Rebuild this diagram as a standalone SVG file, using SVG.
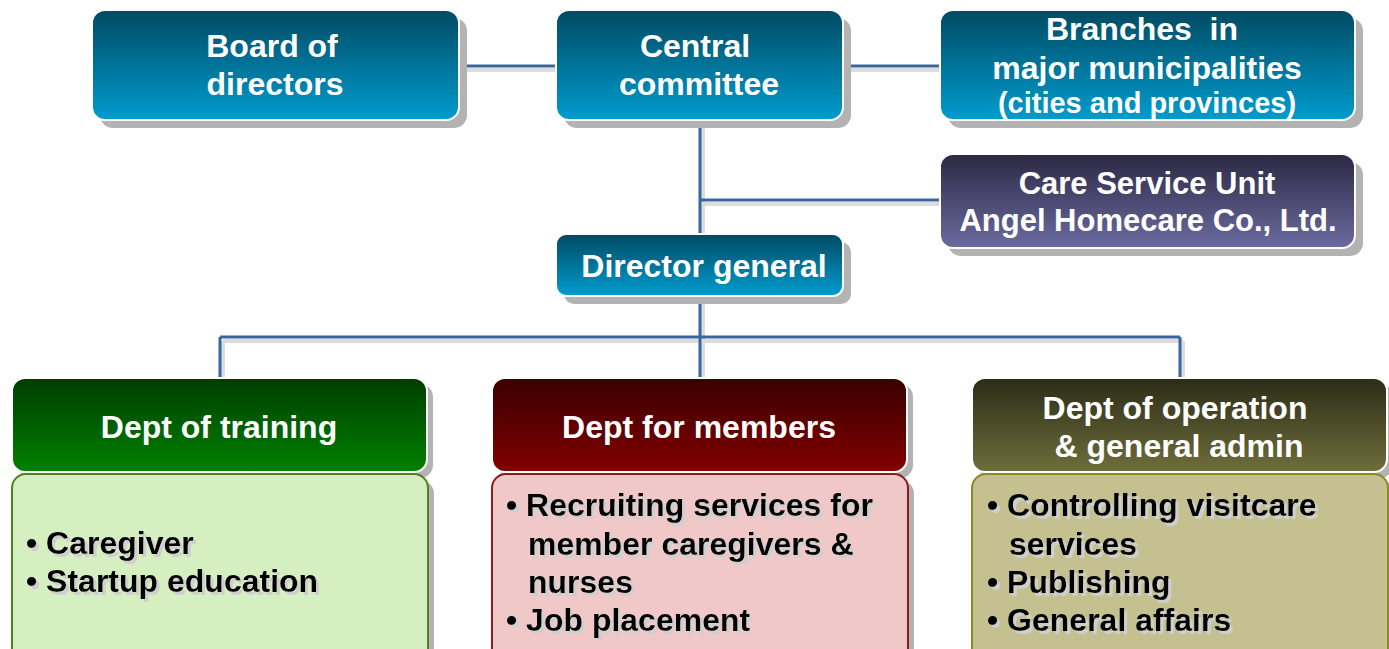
<svg xmlns="http://www.w3.org/2000/svg" width="1389" height="649" viewBox="0 0 1389 649">
<defs>
<linearGradient id="gBlue" x1="0" y1="0" x2="0" y2="1"><stop offset="0" stop-color="#004a62"/><stop offset="1" stop-color="#009ccf"/></linearGradient>
<linearGradient id="gPurple" x1="0" y1="0" x2="0" y2="1"><stop offset="0" stop-color="#2c2944"/><stop offset="1" stop-color="#6b6ba0"/></linearGradient>
<linearGradient id="gGreen" x1="0" y1="0" x2="0" y2="1"><stop offset="0" stop-color="#003d00"/><stop offset="1" stop-color="#008200"/></linearGradient>
<linearGradient id="gRed" x1="0" y1="0" x2="0" y2="1"><stop offset="0" stop-color="#3a0000"/><stop offset="1" stop-color="#820000"/></linearGradient>
<linearGradient id="gOlive" x1="0" y1="0" x2="0" y2="1"><stop offset="0" stop-color="#2c2c18"/><stop offset="1" stop-color="#6e6e3c"/></linearGradient>
<filter id="tsh" x="-5%" y="-20%" width="115%" height="150%">
<feOffset in="SourceAlpha" dx="3" dy="3" result="o"/>
<feFlood flood-color="#cfcfcf"/>
<feComposite in2="o" operator="in" result="s"/>
<feMerge><feMergeNode in="s"/><feMergeNode in="SourceGraphic"/></feMerge>
</filter>
</defs>
<style>
.sh{fill:#b3b3b3}
.box{stroke:#ffffff;stroke-width:2}
.t{font-family:"Liberation Sans",Arial,sans-serif;font-weight:bold;font-size:32px;fill:#ffffff;text-anchor:middle}
.b{font-family:"Liberation Sans",Arial,sans-serif;font-weight:bold;font-size:32px;fill:#000000}
.ln{stroke:#3a66a0;stroke-width:3;fill:none}
.lns{stroke:#dcdcdc;stroke-width:4;fill:none}
</style>
<g id="connectors">
<g transform="translate(3,4)">
<path class="lns" d="M459 66H556M843 66H940M700 120V234M700 200H940M700 296V337M220 337H1180M220 337V378M700 337V378M1180 337V378"/>
</g>
<path class="ln" d="M459 66H556M843 66H940M700 120V234M700 200H940M700 296V378M220 337H1180M220 337V378M1180 337V378"/>
</g>
<g id="board">
<rect class="sh" x="100" y="18" width="367" height="110" rx="13"/>
<rect class="box" x="92" y="10" width="367" height="110" rx="13" fill="url(#gBlue)"/>
<text class="t" x="272" y="57">Board of</text>
<text class="t" x="275" y="95">directors</text>
</g>
<g id="central">
<rect class="sh" x="564" y="18" width="287" height="110" rx="13"/>
<rect class="box" x="556" y="10" width="287" height="110" rx="13" fill="url(#gBlue)"/>
<text class="t" x="695" y="57">Central</text>
<text class="t" x="699" y="95">committee</text>
</g>
<g id="branches">
<rect class="sh" x="948" y="18" width="415" height="110" rx="13"/>
<rect class="box" x="940" y="10" width="415" height="110" rx="13" fill="url(#gBlue)"/>
<text class="t" x="1142" y="40" xml:space="preserve">Branches  in</text>
<text class="t" x="1147" y="79">major municipalities</text>
<text class="t" x="1147" y="113" style="font-size:29px">(cities and provinces)</text>
</g>
<g id="care">
<rect class="sh" x="948" y="162" width="415" height="94" rx="13"/>
<rect class="box" x="940" y="154" width="415" height="94" rx="13" fill="url(#gPurple)"/>
<text class="t" x="1147" y="194" style="font-size:31px">Care Service Unit</text>
<text class="t" x="1148" y="231" style="font-size:31px">Angel Homecare Co., Ltd.</text>
</g>
<g id="director">
<rect class="sh" x="564" y="242" width="287" height="62" rx="10"/>
<rect class="box" x="556" y="234" width="287" height="62" rx="10" fill="url(#gBlue)"/>
<text class="t" x="704" y="277">Director general</text>
</g>
<g id="training">
<rect class="sh" x="18" y="384" width="415" height="94" rx="13"/>
<rect class="box" x="12" y="378" width="415" height="94" rx="13" fill="url(#gGreen)"/>
<text class="t" x="219" y="438">Dept of training</text>
<rect class="sh" x="18" y="480" width="416" height="190" rx="14"/>
<rect x="12" y="474" width="416" height="190" rx="14" fill="#d6efc0" stroke="#537f25" stroke-width="2"/>
<g class="b" filter="url(#tsh)">
<text x="26" y="554">• Caregiver</text>
<text x="26" y="592">• Startup education</text>
</g>
</g>
<g id="members">
<rect class="sh" x="498" y="384" width="415" height="94" rx="13"/>
<rect class="box" x="492" y="378" width="415" height="94" rx="13" fill="url(#gRed)"/>
<text class="t" x="699" y="438">Dept for members</text>
<rect class="sh" x="498" y="480" width="416" height="190" rx="14"/>
<rect x="492" y="474" width="416" height="190" rx="14" fill="#f0c8c8" stroke="#8b1c1c" stroke-width="2"/>
<g class="b" filter="url(#tsh)">
<text x="506" y="516">• Recruiting services for</text>
<text x="528" y="555">member caregivers &amp;</text>
<text x="528" y="593">nurses</text>
<text x="506" y="631">• Job placement</text>
</g>
</g>
<g id="operation">
<rect class="sh" x="978" y="384" width="415" height="94" rx="13"/>
<rect class="box" x="972" y="378" width="415" height="94" rx="13" fill="url(#gOlive)"/>
<text class="t" x="1175" y="419">Dept of operation</text>
<text class="t" x="1179" y="457">&amp; general admin</text>
<rect class="sh" x="978" y="480" width="416" height="190" rx="14"/>
<rect x="972" y="474" width="416" height="190" rx="14" fill="#c4c090" stroke="#8a8a22" stroke-width="2"/>
<g class="b" filter="url(#tsh)">
<text x="987" y="516">• Controlling visitcare</text>
<text x="1009" y="555">services</text>
<text x="987" y="593">• Publishing</text>
<text x="987" y="631">• General affairs</text>
</g>
</g>
</svg>
